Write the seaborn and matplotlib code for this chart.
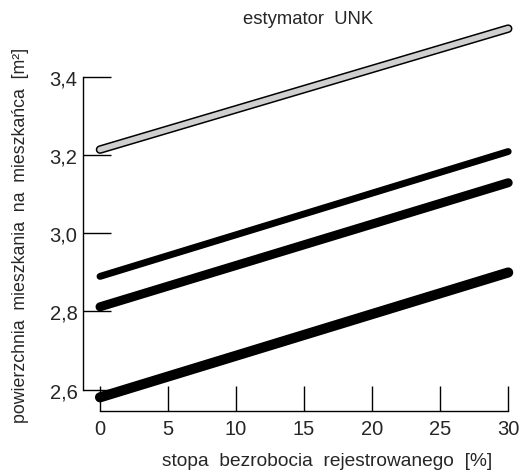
import numpy as np
import pandas as pd
import matplotlib.pyplot as plt
import matplotlib.patheffects as pe
import seaborn as sns

sns.set_style("white")
plt.rcParams['font.family'] = ['Liberation Sans', 'DejaVu Sans']

# stopa bezrobocia [%] - line end points
stopa = [0, 30]
# predicted values for the four groups
seria_1 = [3.215, 3.525]
seria_2 = [2.89, 3.21]
seria_3 = [2.812, 3.13]
seria_4 = [2.58, 2.90]
widths = [4.0, 5.0, 6.5, 7.3]

yticks = [2.6, 2.8, 3.0, 3.2, 3.4]
xticks = [0, 5, 10, 15, 20, 25, 30]

fig = plt.figure(figsize=(5.23, 4.77), dpi=100)
ax = fig.add_axes([0.1587, 0.1363, 0.826, 0.822])

for i, (s, lw) in enumerate(zip([seria_1, seria_2, seria_3, seria_4], widths)):
    df = pd.DataFrame({"x": stopa, "y": s})
    sns.lineplot(data=df, x="x", y="y", ax=ax, color="black", lw=lw,
                 solid_capstyle="round")
    if i == 0:
        # top line drawn light with a dark edge
        ax.lines[-1].set_color("#cfcfcf")
        ax.lines[-1].set_path_effects([pe.Stroke(linewidth=lw + 2.2, foreground="black"),
                                       pe.Normal()])

ax.set_xlim(-1.25, 30.5)
ax.set_ylim(2.545, 3.55)
ax.set_xticks(xticks)
ax.set_yticks(yticks)
ax.set_yticklabels([f"{v:.1f}".replace(".", ",") for v in yticks])
ax.tick_params(axis="y", direction="in", length=20, width=1, pad=4,
               labelsize=14.5, left=True, color="black")
ax.tick_params(axis="x", direction="in", length=18, width=1, pad=6,
               labelsize=14.5, bottom=True, color="black")

sns.despine(ax=ax)
ax.spines["left"].set_bounds(2.6, 3.4)
ax.spines["bottom"].set_bounds(0, 30)
for sp in ["left", "bottom"]:
    ax.spines[sp].set_color("black")
    ax.spines[sp].set_linewidth(1)

ax.set_xlabel("stopa  bezrobocia  rejestrowanego  [%]", fontsize=13.8)
ax.set_ylabel("powierzchnia  mieszkania  na  mieszkańca  [m²]", fontsize=12.8)
ax.xaxis.set_label_coords(0.565, -0.105)
ax.yaxis.set_label_coords(-0.125, 0.449)
fig.text(308 / 523, 1 - 20 / 477, "estymator  UNK", ha="center", va="center", fontsize=13.3)

fig.savefig("out.png", dpi=100)
